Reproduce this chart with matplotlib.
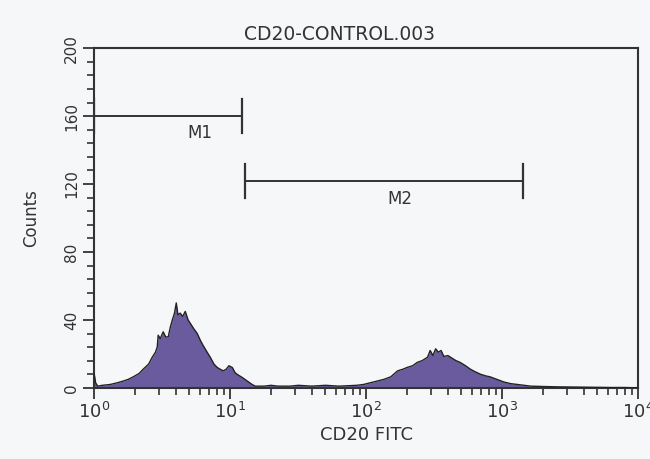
import numpy as np
import matplotlib
matplotlib.use("Agg")
import matplotlib.pyplot as plt
from matplotlib.ticker import FixedLocator, LogLocator, NullFormatter

plt.rcParams['font.family'] = ['DejaVu Sans']
plt.rcParams['mathtext.fontset'] = 'dejavusans'

title = "CD20-CONTROL.003"
xlabel = "CD20 FITC"
ylabel = "Counts"

# channel position in decades (log10 of CD20 FITC intensity)
log_fitc = [0.000, 0.010, 0.025, 0.06, 0.118, 0.17, 0.213, 0.25, 0.287, 0.33,
            0.36, 0.40, 0.426, 0.45, 0.463, 0.47, 0.485, 0.507, 0.525, 0.544,
            0.56, 0.574, 0.59, 0.603, 0.615, 0.632, 0.65, 0.669, 0.69, 0.706,
            0.73, 0.757, 0.78, 0.80, 0.83, 0.853, 0.88, 0.904, 0.925, 0.949,
            0.97, 0.99, 1.015, 1.035, 1.05, 1.09, 1.125, 1.16, 1.184, 1.25,
            1.30, 1.35, 1.44, 1.50, 1.60, 1.70, 1.80, 1.93, 1.98, 2.03,
            2.08, 2.13, 2.18, 2.23, 2.27, 2.30, 2.34, 2.375, 2.41, 2.45,
            2.47, 2.49, 2.51, 2.53, 2.55, 2.57, 2.60, 2.62, 2.66, 2.69,
            2.73, 2.765, 2.80, 2.84, 2.88, 2.91, 2.96, 3.01, 3.06, 3.11,
            3.16, 3.21, 3.30, 3.40, 3.50, 3.60, 3.70, 3.80, 3.90, 4.00]
counts = [8, 3, 1, 1.5, 2, 3, 4, 5, 6.5, 8.5,
          11, 14, 18, 21, 24, 31, 29, 33, 30, 30,
          36, 40, 44, 50, 43, 44, 42, 45, 40, 38,
          35, 32, 28, 25, 21, 18, 14, 12, 11, 10,
          11, 13, 12, 9, 8, 6, 4, 2, 1, 1,
          1.5, 1, 1, 1.5, 1, 1.5, 1, 1.5, 2, 3,
          4, 5, 6.5, 10, 11, 12, 13, 15, 16, 18,
          22, 19, 23, 21, 22, 18.5, 19, 18, 16, 15,
          13, 11, 9.5, 8, 7, 6.5, 5, 3.5, 2.5, 2,
          1.5, 1, 0.8, 0.6, 0.5, 0.4, 0.3, 0.2, 0.2, 0]

# marker gates
gate_names = ["M1", "M2"]
gate_start = [1.0, 12.9]
gate_end = [12.2, 1420]
gate_level = [160, 122]
gate_label_x = [6.0, 178]
gate_label_y = [150, 111]

xticks = [1, 10, 100, 1000, 10000]
xticklabels = [r"$10^0$", r"$10^1$", r"$10^2$", r"$10^3$", r"$10^4$"]
yticks = [0, 40, 80, 120, 160, 200]

bg = "#f6f7f9"
ink = "#333333"
fig = plt.figure(figsize=(6.5, 4.59), dpi=100, facecolor=bg)
ax = fig.add_axes([0.145, 0.155, 0.837, 0.74])
ax.set_facecolor(bg)

x = 10 ** np.array(log_fitc)
y = np.array(counts)
ax.fill_between(x, 0, y, color="#6a5a9e", linewidth=0, zorder=2)
ax.plot(x, y, color="#222222", linewidth=1.0, zorder=3)

for name, s, e, lvl, lx, ly in zip(gate_names, gate_start, gate_end, gate_level,
                                    gate_label_x, gate_label_y):
    ax.plot([s, e], [lvl, lvl], color=ink, linewidth=1.4, zorder=4)
    ax.plot([s, s], [lvl - 10, lvl + 10], color=ink, linewidth=1.6, zorder=4)
    ax.plot([e, e], [lvl - 10, lvl + 10], color=ink, linewidth=1.6, zorder=4)
    ax.text(lx, ly, name, ha="center", va="center", fontsize=12, color=ink)

ax.set_xscale("log")
ax.set_xlim(1, 10000)
ax.set_ylim(0, 200)
ax.set_xticks(xticks)
ax.set_xticklabels(xticklabels, fontsize=13, color=ink)
ax.xaxis.set_minor_locator(LogLocator(base=10, subs=np.arange(2, 10)))
ax.xaxis.set_minor_formatter(NullFormatter())
ax.set_yticks(yticks)
ax.set_yticklabels([str(t) for t in yticks], fontsize=11, rotation=90,
                   va="center", color=ink)
ax.yaxis.set_minor_locator(FixedLocator(np.arange(0, 201, 8)))

ax.tick_params(axis="both", which="major", direction="out", length=8, width=1.3,
               color=ink)
ax.tick_params(axis="both", which="minor", direction="out", length=5, width=1.2,
               color=ink)
ax.tick_params(axis="x", which="major", pad=2)
ax.tick_params(axis="y", which="major", pad=3)

for sp in ax.spines.values():
    sp.set_linewidth(1.5)
    sp.set_color(ink)

ax.set_title(title, fontsize=13.5, color=ink, pad=6, x=0.45)
ax.set_xlabel(xlabel, fontsize=13, color=ink, labelpad=3)
ax.set_ylabel(ylabel, fontsize=12, color=ink, labelpad=17)

fig.savefig("out.png", dpi=100, facecolor=bg)
